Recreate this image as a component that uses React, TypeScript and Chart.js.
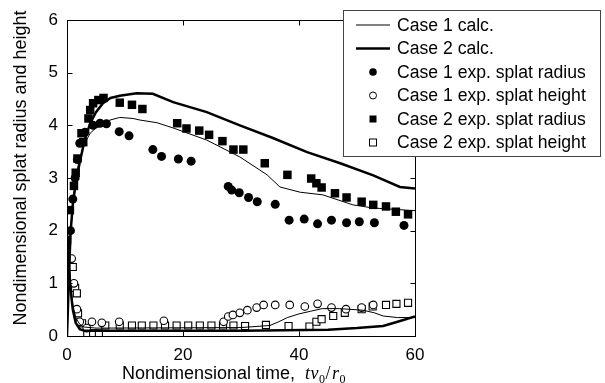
import { useEffect, useRef } from "react";
import { Chart, registerables } from "chart.js";

Chart.register(...registerables);

// ---------- data ----------
const xTicks = [0, 20, 40, 60];
const yTicks = [0, 1, 2, 3, 4, 5, 6];

const legendLabels = [
  "Case 1 calc.",
  "Case 2 calc.",
  "Case 1 exp. splat radius",
  "Case 1 exp. splat height",
  "Case 2 exp. splat radius",
  "Case 2 exp. splat height",
];
const xTitleText = "Nondimensional time,";
const yTitleText = "Nondimensional splat radius and height";

// calculated curves (thin = case 1, thick = case 2)
const case1CalcRadius: [number, number][] = [
  [0, 0], [0.3, 1.0], [0.6, 1.9], [1.0, 2.5], [1.5, 2.95], [2, 3.28], [3, 3.65], [4, 3.85],
  [5, 3.95], [6.2, 4.0], [7.4, 4.1], [9.1, 4.15], [11.4, 4.13], [12.6, 4.1], [15.5, 4.05],
  [18.3, 3.95], [24.1, 3.72], [29.8, 3.4], [34.5, 3.06], [36.7, 2.83], [40.2, 2.73],
  [44.1, 2.68], [49.3, 2.49], [52.8, 2.43], [58.6, 2.39], [60, 2.38],
];
const case1CalcHeight: [number, number][] = [
  [0, 2.0], [0.3, 1.5], [0.6, 1.0], [1.0, 0.6], [1.5, 0.35], [2.2, 0.22], [3, 0.17], [5, 0.15],
  [30, 0.16], [35, 0.2], [36.5, 0.27], [38, 0.35], [40, 0.42], [42, 0.47], [44, 0.52],
  [47, 0.52], [51, 0.49], [53, 0.44], [54.5, 0.38], [57, 0.35], [60, 0.35],
];
const case2CalcRadius: [number, number][] = [
  [0, 0], [0.3, 1.0], [0.6, 1.95], [1.0, 2.5], [1.5, 2.9], [2.2, 3.3], [3, 3.7], [4, 4.04],
  [5, 4.25], [6.2, 4.42], [7.5, 4.52], [9.1, 4.56], [12, 4.61], [14.8, 4.6], [18.3, 4.44],
  [24.1, 4.25], [29.8, 4.0], [35.5, 3.76], [41.4, 3.49], [47.1, 3.28], [52.8, 3.05],
  [57.4, 2.83], [60, 2.8],
];
const case2CalcHeight: [number, number][] = [
  [0, 2.0], [0.3, 1.4], [0.6, 0.9], [1.0, 0.5], [1.5, 0.25], [2.2, 0.13], [3, 0.1],
  [30, 0.1], [45, 0.12], [50, 0.15], [54.5, 0.19], [57, 0.27], [60, 0.37],
];

// experimental points
const case1ExpRadius: [number, number][] = [
  [0, 0.93], [0.6, 2.0], [1.0, 2.6], [1.4, 3.0], [1.8, 3.35], [2.2, 3.66], [3.1, 3.87],
  [4.5, 4.0], [5.7, 4.04], [6.8, 4.03], [9, 3.88], [10.7, 3.8], [14.8, 3.54], [16.3, 3.41],
  [19.2, 3.36], [21.4, 3.32], [27.8, 2.84], [28.4, 2.77], [29.7, 2.72], [31.3, 2.63],
  [32.8, 2.55], [35.9, 2.5], [38.3, 2.2], [40.9, 2.22], [43.2, 2.13], [45.6, 2.2],
  [48.2, 2.15], [50.4, 2.17], [53, 2.15], [58.1, 2.1],
];
const case1ExpHeight: [number, number][] = [
  [0.8, 1.47], [1.2, 1.0], [1.7, 0.51], [2.2, 0.27], [3.4, 0.15], [4.3, 0.27], [6, 0.25],
  [9, 0.27], [16.7, 0.29], [27, 0.27], [27.8, 0.37], [28.6, 0.4], [29.8, 0.44], [31.1, 0.49],
  [32.7, 0.54], [33.9, 0.59], [35.9, 0.59], [38.4, 0.59], [41, 0.56], [43.2, 0.61],
  [45.6, 0.54], [48.1, 0.51], [50.8, 0.54], [52.8, 0.59],
];
const case2ExpRadius: [number, number][] = [
  [0, 1.82], [0.5, 2.39], [1.2, 2.85], [1.5, 3.1], [1.8, 3.37], [2.5, 3.85], [2.8, 3.68],
  [3.7, 4.13], [4.0, 4.29], [4.5, 4.42], [5.4, 4.48], [6.3, 4.52], [9.1, 4.43], [11.2, 4.39],
  [13, 4.31], [19, 4.04], [20.6, 3.94], [22.8, 3.9], [24.5, 3.82], [26.8, 3.7], [28.7, 3.54],
  [30.4, 3.54], [34.1, 3.28], [38, 3.06], [42.1, 2.99], [43, 2.9], [43.9, 2.82], [46.2, 2.71],
  [48.2, 2.63], [50.8, 2.55], [52.8, 2.49], [55, 2.46], [56.7, 2.36], [58.8, 2.31],
];
const case2ExpHeight: [number, number][] = [
  [0, 1.8], [1, 1.31], [1.4, 0.91], [1.7, 0.81], [1.9, 0.43], [2.6, 0.24], [3.5, 0.05],
  [4.5, 0.05], [5.5, 0.05], [6.6, 0.2], [9.1, 0.2], [11.2, 0.2], [12.9, 0.2], [14.9, 0.2],
  [16.9, 0.2], [18.9, 0.2], [20.9, 0.2], [22.9, 0.2], [24.9, 0.2], [26.9, 0.2], [28.7, 0.2],
  [30.7, 0.19], [34.3, 0.21], [38.2, 0.19], [41.8, 0.18], [43, 0.27], [43.9, 0.32],
  [45.9, 0.38], [47.9, 0.44], [50.8, 0.51], [52.7, 0.56], [55, 0.59], [56.8, 0.61], [58.8, 0.63],
];

// ---------- helpers ----------
const pts = (a: [number, number][]) => a.map(([x, y]) => ({ x, y }));
const SANS = "Arial, 'Liberation Sans', sans-serif";
const SERIF = "'Times New Roman', 'Liberation Serif', serif";

const decorPlugin = {
  id: "decor",
  afterDraw(chart: any) {
    const { ctx, chartArea: a, scales } = chart;
    ctx.save();
    // frame
    ctx.strokeStyle = "#000";
    ctx.lineWidth = 1;
    const L = Math.round(a.left) + 0.5, T = Math.round(a.top) + 0.5;
    const R = Math.round(a.right) + 0.5, B = Math.round(a.bottom) + 0.5;
    ctx.strokeRect(L, T, R - L, B - T);
    const tl = 5;
    ctx.beginPath();
    for (const v of xTicks) {
      const px = Math.round(scales.x.getPixelForValue(v)) + 0.5;
      ctx.moveTo(px, B); ctx.lineTo(px, B - tl);
      ctx.moveTo(px, T); ctx.lineTo(px, T + tl);
    }
    for (const v of yTicks) {
      const py = Math.round(scales.y.getPixelForValue(v)) + 0.5;
      ctx.moveTo(L, py); ctx.lineTo(L + tl, py);
      ctx.moveTo(R, py); ctx.lineTo(R - tl, py);
    }
    ctx.stroke();

    // x title (mixed fonts)
    ctx.fillStyle = "#000";
    ctx.textBaseline = "alphabetic";
    ctx.textAlign = "left";
    const baseY = 379;
    let x = 122;
    ctx.font = `18px ${SANS}`;
    ctx.fillText(xTitleText, x, baseY);
    x = 305;
    const big = `italic 18px ${SERIF}`;
    const small = `12px ${SERIF}`;
    const parts: [string, string, number][] = [
      ["t", big, 0], ["v", big, 0], ["0", small, 4], ["/", `18px ${SERIF}`, 0], ["r", big, 0], ["0", small, 4],
    ];
    for (const [s, f, dy] of parts) {
      ctx.font = f;
      ctx.fillText(s, x, baseY + dy);
      x += ctx.measureText(s).width + (s === "/" ? 1.5 : 0.5);
    }

    // y title
    ctx.save();
    ctx.translate(25.5, 168);
    ctx.rotate(-Math.PI / 2);
    ctx.font = `18px ${SANS}`;
    ctx.textAlign = "center";
    ctx.textBaseline = "alphabetic";
    ctx.fillText(yTitleText, 0, 0);
    ctx.restore();

    // legend
    const bx = 343.5, by = 10.5, bw = 257, bh = 146;
    ctx.fillStyle = "#fff";
    ctx.fillRect(bx, by, bw, bh);
    ctx.strokeStyle = "#444";
    ctx.lineWidth = 1;
    ctx.strokeRect(bx, by, bw, bh);
    const rowY0 = 25, step = 23.5, symX = 373;
    legendLabels.forEach((label, i) => {
      const y = rowY0 + i * step;
      ctx.strokeStyle = "#000";
      ctx.fillStyle = "#000";
      if (i === 0 || i === 1) {
        ctx.lineWidth = i === 0 ? 1 : 2.5;
        ctx.beginPath();
        ctx.moveTo(356, y);
        ctx.lineTo(390, y);
        ctx.stroke();
      } else if (i === 2) {
        ctx.beginPath(); ctx.arc(symX, y, 3.8, 0, Math.PI * 2); ctx.fill();
      } else if (i === 3) {
        ctx.lineWidth = 1;
        ctx.beginPath(); ctx.arc(symX, y, 3.5, 0, Math.PI * 2); ctx.stroke();
      } else if (i === 4) {
        ctx.fillRect(symX - 3.5, y - 3.5, 7, 7);
      } else {
        ctx.lineWidth = 1;
        ctx.strokeRect(symX - 3.5, y - 3.5, 7, 7);
      }
      ctx.fillStyle = "#000";
      ctx.font = `17.6px ${SANS}`;
      ctx.textAlign = "left";
      ctx.textBaseline = "middle";
      ctx.fillText(label, 397, y + 1);
    });
    ctx.restore();
  },
};

export default function App() {
  const ref = useRef<HTMLCanvasElement | null>(null);

  useEffect(() => {
    if (!ref.current) return;
    const lineDs = (label: string, data: [number, number][], w: number) => ({
      label,
      data: pts(data),
      showLine: true,
      borderColor: "#000",
      borderWidth: w,
      pointRadius: 0,
      fill: false,
      tension: 0,
    });
    const chart = new Chart(ref.current, {
      type: "scatter",
      data: {
        datasets: [
          lineDs("Case 1 calc. radius", case1CalcRadius, 1),
          lineDs("Case 1 calc. height", case1CalcHeight, 1),
          lineDs("Case 2 calc. radius", case2CalcRadius, 2.5),
          lineDs("Case 2 calc. height", case2CalcHeight, 2.5),
          {
            label: legendLabels[2],
            data: pts(case1ExpRadius),
            pointStyle: "circle",
            pointRadius: 4.5,
            backgroundColor: "#000",
            borderColor: "#000",
            borderWidth: 0,
          },
          {
            label: legendLabels[3],
            data: pts(case1ExpHeight),
            pointStyle: "circle",
            pointRadius: 3.8,
            backgroundColor: "#fff",
            borderColor: "#000",
            borderWidth: 1.1,
          },
          {
            label: legendLabels[4],
            data: pts(case2ExpRadius),
            pointStyle: "rect",
            pointRadius: 6,
            backgroundColor: "#000",
            borderColor: "#000",
            borderWidth: 0,
          },
          {
            label: legendLabels[5],
            data: pts(case2ExpHeight),
            pointStyle: "rect",
            pointRadius: 5,
            backgroundColor: "#fff",
            borderColor: "#000",
            borderWidth: 1.1,
          },
        ],
      },
      options: {
        animation: false,
        responsive: true,
        maintainAspectRatio: false,
        layout: { padding: { left: 0, right: 190, top: 20, bottom: 0 } },
        plugins: { legend: { display: false }, tooltip: { enabled: false } },
        scales: {
          x: {
            type: "linear",
            min: 0,
            max: 60,
            grid: { display: false, drawTicks: false },
            border: { display: false },
            ticks: {
              stepSize: 20,
              padding: 9,
              color: "#000",
              font: { family: SANS, size: 17 },
              maxRotation: 0,
            },
            afterFit: (s: any) => { s.height = 47; },
          },
          y: {
            type: "linear",
            min: 0,
            max: 6,
            grid: { display: false, drawTicks: false },
            border: { display: false },
            ticks: {
              stepSize: 1,
              padding: 9,
              color: "#000",
              font: { family: SANS, size: 17 },
            },
            afterFit: (s: any) => { s.width = 67; },
          },
        },
      },
      plugins: [decorPlugin],
    });
    return () => chart.destroy();
  }, []);

  return (
    <div style={{ position: "fixed", left: 0, top: 0, width: 605, height: 383, background: "#fff" }}>
      <canvas ref={ref} />
    </div>
  );
}
